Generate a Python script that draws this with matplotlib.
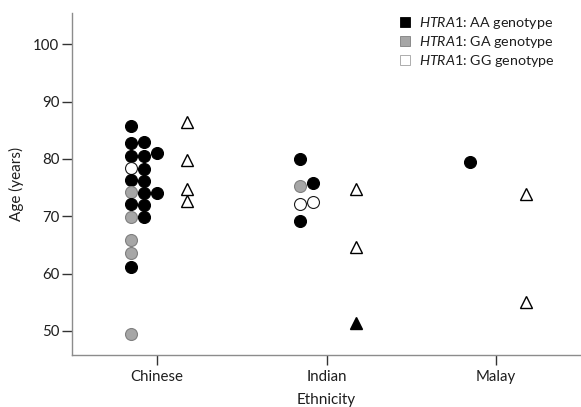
import matplotlib
matplotlib.use("Agg")
import matplotlib.pyplot as plt
from matplotlib.lines import Line2D

plt.rcParams['font.family'] = ['Lato', 'DejaVu Sans']
plt.rcParams['mathtext.fontset'] = 'custom'
plt.rcParams['mathtext.it'] = 'Lato:italic'
plt.rcParams['mathtext.rm'] = 'Lato'

ethnicities = ["Chinese", "Indian", "Malay"]

# Circles: age, genotype, column slot within the swarm
circle_ages = {
    "Chinese": [85.8, 82.8, 80.5, 78.4, 76.4, 74.3, 72.2, 69.9, 65.8, 63.6, 61.2, 49.5,
                82.9, 80.5, 78.3, 76.2, 74.0, 72.0, 69.9,
                81.1, 74.0],
    "Indian": [80.0, 75.2, 72.1, 69.1, 75.8, 72.5],
    "Malay": [79.5],
}
circle_genotypes = {
    "Chinese": ["AA", "AA", "AA", "GG", "AA", "GA", "AA", "GA", "GA", "GA", "AA", "GA",
                "AA", "AA", "AA", "AA", "AA", "AA", "AA",
                "AA", "AA"],
    "Indian": ["AA", "GA", "GG", "AA", "AA", "GG"],
    "Malay": ["AA"],
}
circle_columns = {
    "Chinese": [0] * 12 + [1] * 7 + [2] * 2,
    "Indian": [0, 0, 0, 0, 1, 1],
    "Malay": [0],
}

# Triangles: age, genotype
triangle_ages = {
    "Chinese": [86.5, 79.8, 74.8, 72.6],
    "Indian": [74.7, 64.7, 51.4],
    "Malay": [73.9, 55.1],
}
triangle_genotypes = {
    "Chinese": ["GG", "GG", "GG", "GG"],
    "Indian": ["GG", "GG", "AA"],
    "Malay": ["GG", "GG"],
}

genotype_labels = ["AA", "GA", "GG"]
fill_colors = {"AA": "black", "GA": "#a6a6a6", "GG": "white"}
edge_colors = {"AA": "black", "GA": "#7f7f7f", "GG": "#1a1a1a"}
text_color = "#1e1e1e"

fig = plt.figure(figsize=(5.81, 4.07), dpi=100)
ax = fig.add_axes([72 / 581, 1 - 355 / 407, 1 - 72 / 581, (355 - 12.7) / 407])

col_start, col_step, tri_offset = -0.155, 0.078, 0.175

for i, eth in enumerate(ethnicities):
    base = i + 1
    for age, g, c in zip(circle_ages[eth], circle_genotypes[eth], circle_columns[eth]):
        ax.plot(base + col_start + col_step * c, age, marker='o', ms=8.6,
                mfc=fill_colors[g], mec=edge_colors[g], mew=0.8, ls='none', zorder=3)
    for age, g in zip(triangle_ages[eth], triangle_genotypes[eth]):
        ax.plot(base + tri_offset, age, marker='^', ms=8.4,
                mfc=fill_colors[g], mec="black", mew=1.0, ls='none', zorder=3)

ax.set_xlim(0.5, 3.5)
ax.set_ylim(45.8, 105.5)
ax.set_xticks([1, 2, 3])
ax.set_xticklabels(ethnicities)
ax.set_yticks([50, 60, 70, 80, 90, 100])

for s in ["top", "right"]:
    ax.spines[s].set_visible(False)
for s in ["left", "bottom"]:
    ax.spines[s].set_color("#8c8c8c")
    ax.spines[s].set_linewidth(1.0)

ax.tick_params(axis='both', length=7.5, width=1.0, color="#333333",
               labelsize=10.8, labelcolor=text_color, pad=1.5)
ax.tick_params(axis='x', pad=3)
ax.set_xlabel("Ethnicity", fontsize=11, color=text_color, labelpad=7)
ax.set_ylabel("Age (years)", fontsize=11, color=text_color, labelpad=7)

handles = [Line2D([0], [0], marker='s', ls='none', ms=7, mfc=fill_colors[g],
                  mec=edge_colors[g] if g != "GG" else "#a0a0a0", mew=0.6)
           for g in genotype_labels]
labels = [r"$\it{HTRA1}$: " + g + " genotype" for g in genotype_labels]
leg = ax.legend(handles, labels, loc='upper left',
                bbox_to_anchor=((395 - 72) / 509, 1 - (12 - 12.7) / 342.3),
                frameon=False, fontsize=10.3, handletextpad=0.5, labelspacing=0.22,
                handlelength=1.0, borderaxespad=0.0, borderpad=0.2)
for t in leg.get_texts():
    t.set_color(text_color)

fig.savefig("out.png", dpi=100)
